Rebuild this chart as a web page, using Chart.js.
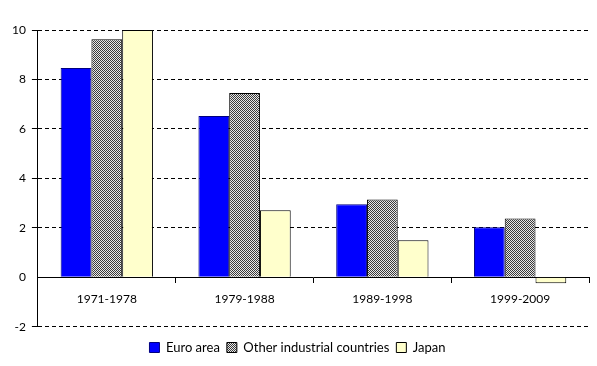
<!DOCTYPE html>
<html><head><meta charset="utf-8">
<script src="https://cdn.jsdelivr.net/npm/chart.js@4"></script>
<style>html,body{margin:0;padding:0;background:#fff;}</style>
</head><body>
<canvas id="c" width="597" height="366"></canvas>
<script>
const categories = ['1971-1978', '1979-1988', '1989-1998', '1999-2009'];
const euroArea = [8.46, 6.52, 2.95, 2.02];
const otherIndustrial = [9.63, 7.45, 3.15, 2.38];
const japan = [10.0, 2.71, 1.5, -0.24];
const yTicks = [-2, 0, 2, 4, 6, 8, 10];

function makePattern() {
  const p = document.createElement('canvas');
  p.width = 2; p.height = 2;
  const g = p.getContext('2d');
  g.fillStyle = '#e8e8e8'; g.fillRect(0, 0, 2, 2);
  g.fillStyle = '#3a3a3a'; g.fillRect(0, 0, 1, 1); g.fillRect(1, 1, 1, 1);
  return g.createPattern(p, 'repeat');
}
const ctx = document.getElementById('c').getContext('2d');
const pattern = makePattern();
const font = {family: 'Lato', size: 12};

new Chart(ctx, {
  type: 'bar',
  data: {
    labels: categories,
    datasets: [
      {label: 'Euro area', data: euroArea, backgroundColor: '#0000ff', borderColor: '#000080', borderWidth: 1},
      {label: 'Other industrial countries', data: otherIndustrial, backgroundColor: pattern, borderColor: '#000', borderWidth: 1},
      {label: 'Japan', data: japan, backgroundColor: '#ffffcc', borderColor: '#000', borderWidth: 1}
    ]
  },
  options: {
    responsive: false,
    animation: false,
    devicePixelRatio: 1,
    layout: {padding: {left: 6, right: 8, top: 30, bottom: 2}},
    datasets: {bar: {categoryPercentage: 0.67, barPercentage: 1.0}},
    plugins: {
      legend: {
        position: 'bottom',
        title: {display: true, text: '', font: {size: 1}, padding: {top: 6, bottom: 0}},
        labels: {font: {family: 'Lato', size: 13}, color: '#000', boxWidth: 10, boxHeight: 10, padding: 7}
      },
      tooltip: {enabled: false}
    },
    scales: {
      x: {
        position: {y: 0},
        ticks: {font: font, color: '#000', padding: 10},
        grid: {drawOnChartArea: false, drawTicks: true, tickLength: 5, color: '#000', offset: true},
        border: {display: true, color: '#000', width: 1}
      },
      y: {
        min: -2, max: 10,
        afterBuildTicks: (s) => { s.ticks = yTicks.map(v => ({value: v})); },
        ticks: {font: font, color: '#000', padding: 6},
        grid: {color: (c) => (c.tick && c.tick.value === 0) ? 'rgba(0,0,0,0)' : '#000', tickLength: 6, lineWidth: 1},
        border: {display: true, color: '#000', width: 1, dash: [4, 3]}
      }
    }
  }
});
</script>
</body></html>
